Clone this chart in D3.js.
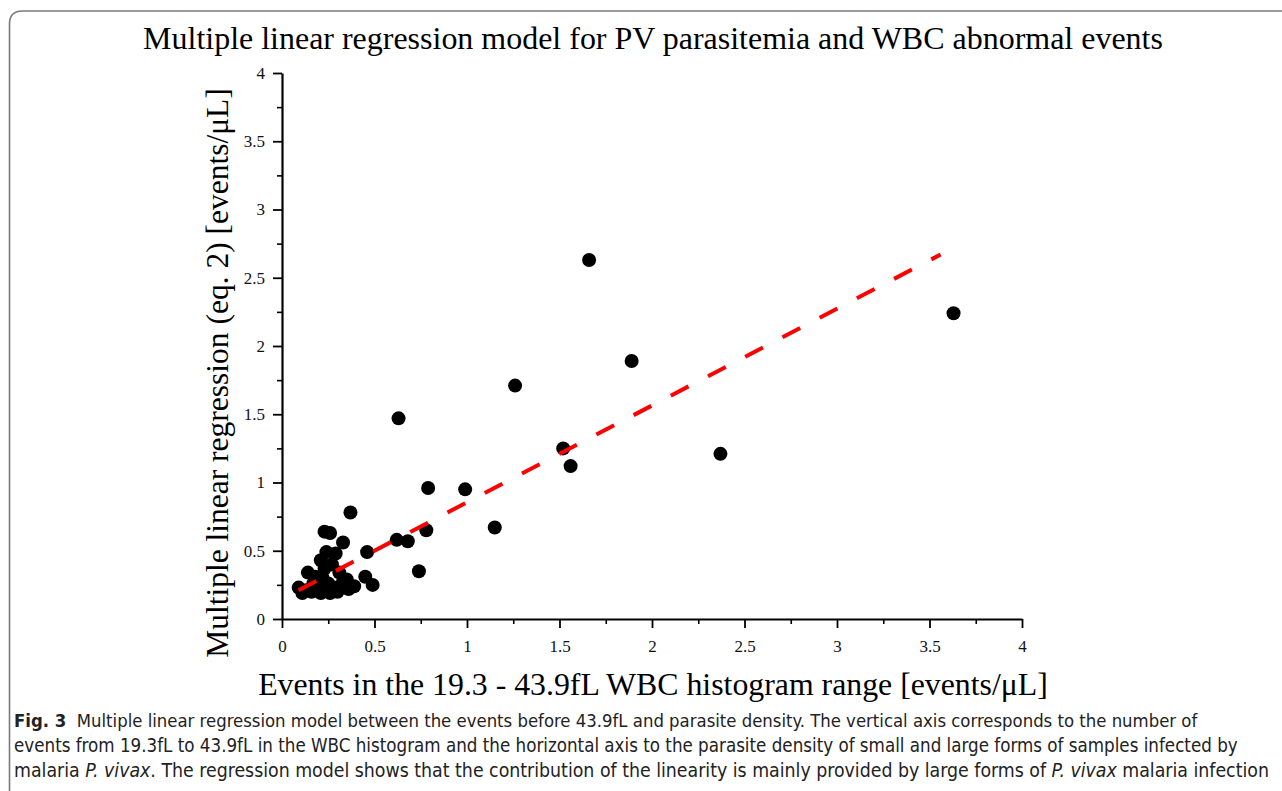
<!DOCTYPE html>
<html>
<head>
<meta charset="utf-8">
<script src="https://cdn.jsdelivr.net/npm/d3@7"></script>
<style>
  body { margin: 0; background: #fff; }
  svg { display: block; }
</style>
</head>
<body>
<div id="chart"></div>
<script>
// Data
const eventsX = [
  1.66, 3.63, 1.89, 1.26, 0.63, 1.52, 1.56, 2.37, 0.99, 0.79,
  1.15, 0.37, 0.62, 0.68, 0.78, 0.74, 0.46, 0.45, 0.49,
  0.23, 0.26, 0.33, 0.24, 0.29, 0.21, 0.23, 0.27, 0.14, 0.18,
  0.31, 0.35, 0.39, 0.09, 0.11, 0.16, 0.21, 0.26, 0.30, 0.36,
  0.13, 0.19, 0.25, 0.28, 0.33, 0.22, 0.34, 0.17, 0.27
];
const regressionY = [
  2.63, 2.24, 1.89, 1.71, 1.47, 1.25, 1.12, 1.21, 0.95, 0.96,
  0.67, 0.78, 0.58, 0.57, 0.65, 0.35, 0.49, 0.31, 0.25,
  0.64, 0.63, 0.56, 0.49, 0.48, 0.43, 0.37, 0.40, 0.34, 0.31,
  0.34, 0.29, 0.24, 0.23, 0.19, 0.20, 0.19, 0.19, 0.20, 0.22,
  0.21, 0.24, 0.26, 0.23, 0.27, 0.30, 0.23, 0.26, 0.21
];
const fitX = [0.09, 3.56];
const fitY = [0.21, 2.67];

const majorTicks = [0, 0.5, 1, 1.5, 2, 2.5, 3, 3.5, 4];
const minorTicks = [0.25, 0.75, 1.25, 1.75, 2.25, 2.75, 3.25, 3.75];

const titleText = "Multiple linear regression model for PV parasitemia and WBC abnormal events";
const xLabel = "Events in the 19.3 - 43.9fL WBC histogram range [events/\u03bcL]";
const yLabel = "Multiple linear regression (eq. 2) [events/\u03bcL]";

const W = 1282, H = 791;
const serif = "'Liberation Serif', 'DejaVu Serif', serif";
const sansCond = "'DejaVu Sans Condensed', 'Open Sans', sans-serif";

const svg = d3.select("#chart").append("svg")
    .attr("width", W)
    .attr("height", H);

// page frame with rounded top-left corner
svg.append("path")
    .attr("d", "M9.5,791 L9.5,24 Q9.5,11 22.5,11 L1282,11")
    .attr("fill", "none")
    .attr("stroke", "#7a7a7a")
    .attr("stroke-width", 1.6);

const x = d3.scaleLinear().domain([0, 4]).range([282, 1022]);
const y = d3.scaleLinear().domain([0, 4]).range([619, 73]);

// scale a text's font size so it fills a given width
function fitWidth(sel, target) {
    const w = sel.node().getComputedTextLength();
    const fs = parseFloat(sel.style("font-size"));
    sel.style("font-size", (fs * target / w) + "px");
}

// title
const title = svg.append("text")
    .attr("x", 653)
    .attr("y", 49)
    .attr("text-anchor", "middle")
    .style("font-family", serif)
    .style("font-size", "30px")
    .text(titleText);
fitWidth(title, 1020);

// minor ticks
svg.append("g")
    .attr("transform", `translate(0,${y(0)})`)
    .call(d3.axisBottom(x).tickValues(minorTicks).tickSize(5).tickSizeOuter(0).tickFormat(""))
    .call(g => g.select(".domain").remove())
    .selectAll(".tick line").attr("stroke-width", 1.6);

svg.append("g")
    .attr("transform", `translate(${x(0)},0)`)
    .call(d3.axisLeft(y).tickValues(minorTicks).tickSize(5).tickSizeOuter(0).tickFormat(""))
    .call(g => g.select(".domain").remove())
    .selectAll(".tick line").attr("stroke-width", 1.6);

// major ticks + labels
const xAxis = svg.append("g")
    .attr("transform", `translate(0,${y(0)})`)
    .call(d3.axisBottom(x).tickValues(majorTicks).tickSize(9).tickSizeOuter(0).tickPadding(12).tickFormat(d => String(d)));

const yAxis = svg.append("g")
    .attr("transform", `translate(${x(0)},0)`)
    .call(d3.axisLeft(y).tickValues(majorTicks).tickSize(9).tickSizeOuter(0).tickPadding(8).tickFormat(d => String(d)));

[xAxis, yAxis].forEach(g => {
    g.select(".domain").attr("stroke-width", 2.2);
    g.selectAll(".tick line").attr("stroke-width", 1.8);
    g.selectAll(".tick text")
        .style("font-family", serif)
        .style("font-size", "17px")
        .attr("fill", "#111");
});

// axis titles
const xt = svg.append("text")
    .attr("x", 653)
    .attr("y", 695)
    .attr("text-anchor", "middle")
    .style("font-family", serif)
    .style("font-size", "30px")
    .text(xLabel);
fitWidth(xt, 790);

const yt = svg.append("text")
    .attr("transform", "translate(228,373) rotate(-90)")
    .attr("text-anchor", "middle")
    .style("font-family", serif)
    .style("font-size", "30px")
    .text(yLabel);
fitWidth(yt, 570);

// scatter points
const pts = eventsX.map((v, i) => ({ x: v, y: regressionY[i] }));
svg.append("g")
    .selectAll("circle")
    .data(pts)
    .enter()
    .append("circle")
    .attr("cx", d => x(d.x))
    .attr("cy", d => y(d.y))
    .attr("r", 7)
    .attr("fill", "#000");

// regression line
const fit = fitX.map((v, i) => ({ x: v, y: fitY[i] }));
svg.append("path")
    .datum(fit)
    .attr("fill", "none")
    .attr("stroke", "#ff0000")
    .attr("stroke-width", 4)
    .attr("stroke-dasharray", "20,22")
    .attr("d", d3.line().x(d => x(d.x)).y(d => y(d.y)));

// caption
const caption = [
    [{ t: "Fig. 3", b: true }, { t: "  Multiple linear regression model between the events before 43.9fL and parasite density. The vertical axis corresponds to the number of" }],
    [{ t: "events from 19.3fL to 43.9fL in the WBC histogram and the horizontal axis to the parasite density of small and large forms of samples infected by" }],
    [{ t: "malaria " }, { t: "P. vivax", i: true }, { t: ". The regression model shows that the contribution of the linearity is mainly provided by large forms of " }, { t: "P. vivax", i: true }, { t: " malaria infection" }]
];
const capWidths = [1184, 1224, 1256];

caption.forEach((line, li) => {
    const txt = svg.append("text")
        .attr("x", 14)
        .attr("y", 727 + li * 25)
        .style("font-family", sansCond)
        .style("font-size", "17px")
        .attr("fill", "#222")
        .attr("xml:space", "preserve");
    line.forEach(part => {
        txt.append("tspan")
            .style("font-weight", part.b ? "bold" : "normal")
            .style("font-style", part.i ? "italic" : "normal")
            .text(part.t);
    });
    fitWidth(txt, capWidths[li]);
});
</script>
</body>
</html>
